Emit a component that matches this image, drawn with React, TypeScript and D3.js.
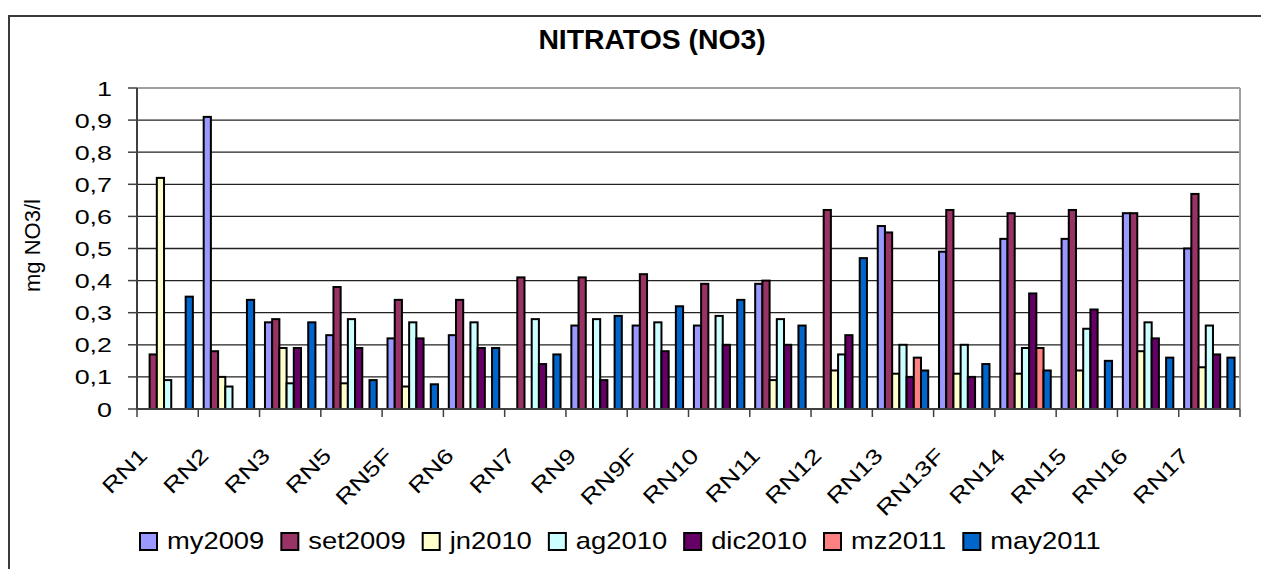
import React, { useMemo } from "react";
import * as d3 from "d3";

// Sampling stations along the river
const stations = [
  "RN1", "RN2", "RN3", "RN5", "RN5F", "RN6", "RN7", "RN9", "RN9F",
  "RN10", "RN11", "RN12", "RN13", "RN13F", "RN14", "RN15", "RN16", "RN17",
];

// Nitrate concentration (mg NO3/l) for each campaign; null = not sampled
const my2009 = [null, 0.91, 0.27, 0.23, 0.22, 0.23, null, 0.26, 0.26, 0.26, 0.39, null, 0.57, 0.49, 0.53, 0.53, 0.61, 0.5];
const set2009 = [0.17, 0.18, 0.28, 0.38, 0.34, 0.34, 0.41, 0.41, 0.42, 0.39, 0.4, 0.62, 0.55, 0.62, 0.61, 0.62, 0.61, 0.67];
const jn2010 = [0.72, 0.1, 0.19, 0.08, 0.07, null, null, null, null, null, 0.09, 0.12, 0.11, 0.11, 0.11, 0.12, 0.18, 0.13];
const ag2010 = [0.09, 0.07, 0.08, 0.28, 0.27, 0.27, 0.28, 0.28, 0.27, 0.29, 0.28, 0.17, 0.2, 0.2, 0.19, 0.25, 0.27, 0.26];
const dic2010 = [null, null, 0.19, 0.19, 0.22, 0.19, 0.14, 0.09, 0.18, 0.2, 0.2, 0.23, 0.1, 0.1, 0.36, 0.31, 0.22, 0.17];
const mz2011 = [null, null, null, null, null, null, null, null, null, null, null, null, 0.16, null, 0.19, null, null, null];
const may2011 = [0.35, 0.34, 0.27, 0.09, 0.077, 0.19, 0.17, 0.29, 0.32, 0.34, 0.26, 0.47, 0.12, 0.14, 0.12, 0.15, 0.16, 0.16];

const seriesNames = ["my2009", "set2009", "jn2010", "ag2010", "dic2010", "mz2011", "may2011"];
const seriesValues = [my2009, set2009, jn2010, ag2010, dic2010, mz2011, may2011];
const seriesColors = ["#9999FF", "#993366", "#FFFFCC", "#CCFFFF", "#660066", "#FF8080", "#0066CC"];

const yTicks = [0, 0.1, 0.2, 0.3, 0.4, 0.5, 0.6, 0.7, 0.8, 0.9, 1];
const yTickLabels = ["0", "0,1", "0,2", "0,3", "0,4", "0,5", "0,6", "0,7", "0,8", "0,9", "1"];

const W = 1261;
const H = 569;
const plot = { left: 137, right: 1240, top: 88, bottom: 409 };
const FONT = "'Liberation Sans', Arial, sans-serif";

const axisFont = 21;
const axisStretch = 1.28;
const legendFont = 24;
const legendStretch = 1.14;

function textWidth(text: string, font: string): number {
  const ctx = document.createElement("canvas").getContext("2d");
  if (!ctx) return text.length * 10;
  ctx.font = font;
  return ctx.measureText(text).width;
}

export default function App() {
  const x0 = d3.scaleBand<string>().domain(stations).range([plot.left, plot.right]).padding(0);
  const x1 = d3
    .scaleBand<string>()
    .domain(seriesNames)
    .range([0, x0.bandwidth()])
    .paddingInner(0)
    .paddingOuter(0.75);
  const y = d3.scaleLinear().domain([0, 1]).range([plot.bottom, plot.top]);

  const legendItems = useMemo(() => {
    let x = 140;
    return seriesNames.map((name, i) => {
      const tw = textWidth(name, `${legendFont}px ${FONT}`) * legendStretch;
      const item = { name, color: seriesColors[i], x };
      x += 17 + 10 + tw + 17;
      return item;
    });
  }, []);

  const boundaries = [...stations.map((s) => x0(s) as number), plot.right];

  return (
    <svg
      width={W}
      height={H}
      style={{ position: "absolute", left: 0, top: 0, background: "#fff" }}
      fontFamily={FONT}
    >
      {/* chart frame (left and top edges fall inside the view) */}
      <path d={`M9,${H + 5} V16 H${W + 5}`} fill="none" stroke="#3a3a3a" strokeWidth={2} />

      {/* title */}
      <text
        transform={`translate(652,49) scale(1.05,1)`}
        textAnchor="middle"
        fontWeight="bold"
        fontSize={27}
      >
        NITRATOS (NO3)
      </text>

      {/* gridlines */}
      {yTicks.slice(1, -1).map((t) => (
        <line key={t} x1={plot.left} x2={plot.right} y1={y(t)} y2={y(t)} stroke="#222" strokeWidth={1.3} />
      ))}

      {/* plot area border (top/right) */}
      <line x1={plot.left} x2={plot.right} y1={plot.top} y2={plot.top} stroke="#a0a0a0" strokeWidth={2} />
      <line x1={plot.right} x2={plot.right} y1={plot.top} y2={plot.bottom} stroke="#a0a0a0" strokeWidth={2} />

      {/* bars */}
      {stations.map((s, ci) => (
        <g key={s} transform={`translate(${x0(s)},0)`}>
          {seriesNames.map((name, si) => {
            const v = seriesValues[si][ci];
            if (v == null) return null;
            return (
              <rect
                key={name}
                x={x1(name)}
                y={y(v)}
                width={x1.bandwidth()}
                height={y(0) - y(v)}
                fill={seriesColors[si]}
                stroke="#000"
                strokeWidth={2}
              />
            );
          })}
        </g>
      ))}

      {/* axes */}
      <line x1={plot.left} x2={plot.left} y1={plot.top} y2={plot.bottom} stroke="#404040" strokeWidth={2} />
      <line x1={plot.left} x2={plot.right} y1={plot.bottom} y2={plot.bottom} stroke="#404040" strokeWidth={2} />
      {yTicks.map((t) => (
        <line key={t} x1={plot.left - 9} x2={plot.left} y1={y(t)} y2={y(t)} stroke="#404040" strokeWidth={1.5} />
      ))}
      {boundaries.map((bx, i) => (
        <line key={i} x1={bx} x2={bx} y1={plot.bottom} y2={plot.bottom + 8} stroke="#404040" strokeWidth={1.5} />
      ))}

      {/* y tick labels */}
      {yTicks.map((t, i) => (
        <text
          key={t}
          transform={`translate(112,${y(t)}) scale(${axisStretch},1)`}
          textAnchor="end"
          dy="0.36em"
          fontSize={axisFont}
        >
          {yTickLabels[i]}
        </text>
      ))}

      {/* y axis title */}
      <text
        transform={`translate(40,${(plot.top + plot.bottom) / 2 - 3}) rotate(-90)`}
        textAnchor="middle"
        fontSize={22}
      >
        mg NO3/l
      </text>

      {/* category labels */}
      {stations.map((s) => {
        const cx = (x0(s) as number) + x0.bandwidth() / 2;
        return (
          <text
            key={s}
            transform={`translate(${cx - 19},457) rotate(-45) scale(${axisStretch},1)`}
            textAnchor="end"
            fontSize={axisFont}
          >
            {s}
          </text>
        );
      })}

      {/* legend */}
      {legendItems.map((it) => (
        <g key={it.name}>
          <rect x={it.x} y={533} width={17} height={17} fill={it.color} stroke="#000" strokeWidth={2} />
          <text
            transform={`translate(${it.x + 27},549) scale(${legendStretch},1)`}
            fontSize={legendFont}
          >
            {it.name}
          </text>
        </g>
      ))}
    </svg>
  );
}
